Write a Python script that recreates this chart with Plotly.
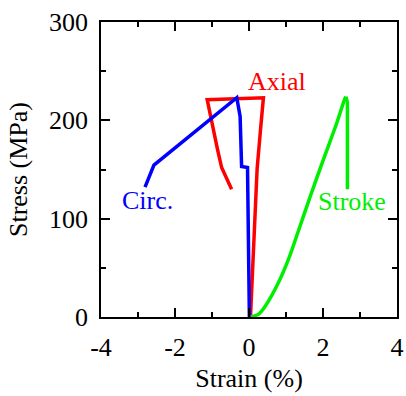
import plotly.graph_objects as go

# Axial strain gauge reading
axial_strain = [0.04, 0.13, 0.22, 0.31, 0.39, -1.13, -1.09, -0.97, -0.86, -0.74, -0.47]
axial_stress = [0, 70, 151, 190, 223, 221, 213, 192, 172, 152, 130]

# Circumferential strain gauge reading
circ_strain = [0.01, -0.04, -0.04, -0.20, -0.24, -0.33, -2.57, -2.81]
circ_stress = [0, 140, 152, 153, 204, 223, 154.5, 132]

# Stroke-based strain: loading branch (smooth) and unloading drop
stroke_load_strain = [0.05, 0.25, 0.43, 0.79, 1.06, 1.33, 1.65, 2.01, 2.37, 2.59, 2.62]
stroke_load_stress = [0, 2.7, 10.5, 34.5, 58, 87, 122, 160, 197, 222, 224]
stroke_drop_strain = [2.62, 2.66, 2.66]
stroke_drop_stress = [224, 218, 130]

x_ticks = [-4, -2, 0, 2, 4]
x_tick_text = ["-4", "-2", "0", "2", "4"]
y_ticks = [0, 100, 200, 300]

FONT = "Liberation Serif"
GREEN = "#00ee00"

fig = go.Figure()
fig.add_trace(go.Scatter(x=axial_strain, y=axial_stress, mode="lines",
                         line=dict(color="#ff0000", width=3.5), name="Axial"))
fig.add_trace(go.Scatter(x=circ_strain, y=circ_stress, mode="lines",
                         line=dict(color="#0000ff", width=3.5), name="Circ."))
fig.add_trace(go.Scatter(x=stroke_load_strain, y=stroke_load_stress, mode="lines",
                         line=dict(color=GREEN, width=3.5, shape="spline", smoothing=0.8),
                         name="Stroke"))
fig.add_trace(go.Scatter(x=stroke_drop_strain, y=stroke_drop_stress, mode="lines",
                         line=dict(color=GREEN, width=3.5), name="Stroke"))

labels = [
    ("Axial", 0.77, 239, "#ff0000"),
    ("Circ.", -2.73, 118, "#0000ff"),
    ("Stroke", 2.78, 117, GREEN),
]
for text, x, y, c in labels:
    fig.add_annotation(x=x, y=y, xref="x", yref="y", text=text, showarrow=False,
                       font=dict(family=FONT, size=26, color=c))

axis_common = dict(
    showline=True, linecolor="black", linewidth=1.5, mirror="allticks",
    ticks="inside", ticklen=9, tickwidth=1.5, tickcolor="black",
    showgrid=False, zeroline=False,
    tickfont=dict(family=FONT, size=26, color="black"),
    automargin=False,
)

fig.update_xaxes(
    range=[-4, 4], tickvals=x_ticks, ticktext=x_tick_text,
    minor=dict(dtick=1, ticks="inside", ticklen=5, tickwidth=1.5, tickcolor="black", showgrid=False),
    title=dict(text="Strain (%)", font=dict(family=FONT, size=26, color="black"), standoff=8),
    ticklabelstandoff=6,
    **axis_common,
)
fig.update_yaxes(
    range=[0, 300], tickvals=y_ticks,
    minor=dict(dtick=50, ticks="inside", ticklen=5, tickwidth=1.5, tickcolor="black", showgrid=False),
    title=dict(text="Stress (MPa)", font=dict(family=FONT, size=26, color="black"), standoff=14),
    ticklabelstandoff=6,
    **axis_common,
)

fig.update_layout(
    width=406, height=396,
    margin=dict(l=101, r=9, t=22, b=79),
    paper_bgcolor="white", plot_bgcolor="white",
    showlegend=False,
)

fig.write_html("out.html")
